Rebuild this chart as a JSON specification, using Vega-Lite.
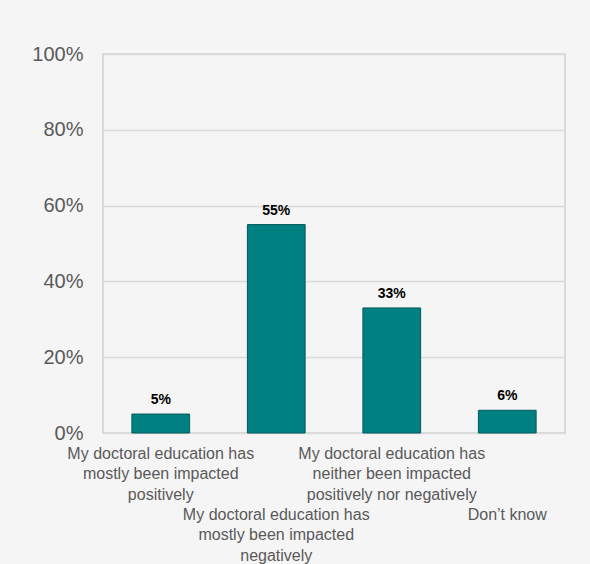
{
  "$schema": "https://vega.github.io/schema/vega-lite/v6.json",
  "width": 462,
  "height": 379,
  "autosize": {"type": "none"},
  "padding": {"left": 103, "top": 54, "right": 25, "bottom": 131},
  "background": "#f5f5f5",
  "config": {
    "view": {"stroke": "#cfcfcf", "strokeWidth": 1.5, "fill": "#f5f5f5"},
    "font": "Liberation Sans"
  },
  "data": {
    "values": [
      {"category": "My doctoral education has mostly been impacted positively", "share": 0.05},
      {"category": "My doctoral education has mostly been impacted negatively", "share": 0.55},
      {"category": "My doctoral education has neither been impacted positively nor negatively", "share": 0.33},
      {"category": "Don’t know", "share": 0.06}
    ]
  },
  "encoding": {
    "x": {
      "field": "category",
      "type": "nominal",
      "sort": null,
      "scale": {"paddingInner": 0.5, "paddingOuter": 0.25},
      "axis": {
        "title": null,
        "labelAngle": 0,
        "domain": false,
        "ticks": false,
        "labelFont": "Liberation Sans",
        "labelFontSize": 16,
        "labelColor": "#595959",
        "labelLimit": 0,
        "labelPadding": {"condition": {"test": "datum.value == 'Don’t know' || datum.value == 'My doctoral education has mostly been impacted negatively'", "value": 73}, "value": 12},
        "labelLineHeight": 20.5,
        "labelBaseline": "top",
        "labelExpr": "datum.value == 'My doctoral education has mostly been impacted positively' ? ['My doctoral education has', 'mostly been impacted', 'positively'] : datum.value == 'My doctoral education has mostly been impacted negatively' ? ['My doctoral education has', 'mostly been impacted', 'negatively'] : datum.value == 'My doctoral education has neither been impacted positively nor negatively' ? ['My doctoral education has', 'neither been impacted', 'positively nor negatively'] : 'Don’t know'"
      }
    },
    "y": {
      "field": "share",
      "type": "quantitative",
      "scale": {"domain": [0, 1]},
      "axis": {
        "title": null,
        "format": ".0%",
        "values": [0, 0.2, 0.4, 0.6, 0.8, 1],
        "domain": false,
        "ticks": false,
        "labelFont": "Liberation Sans",
        "labelFontSize": 20,
        "labelColor": "#595959",
        "labelPadding": 20,
        "gridColor": "#dcdcdc",
        "gridWidth": 1.5
      }
    }
  },
  "layer": [
    {
      "mark": {"type": "bar", "color": "#008080", "stroke": "#045a5a", "strokeWidth": 1}
    },
    {
      "mark": {"type": "text", "baseline": "bottom", "dy": -7, "fontSize": 14, "fontWeight": "bold", "color": "#000000", "font": "Liberation Sans"},
      "encoding": {"text": {"field": "share", "type": "quantitative", "format": ".0%"}}
    }
  ]
}
